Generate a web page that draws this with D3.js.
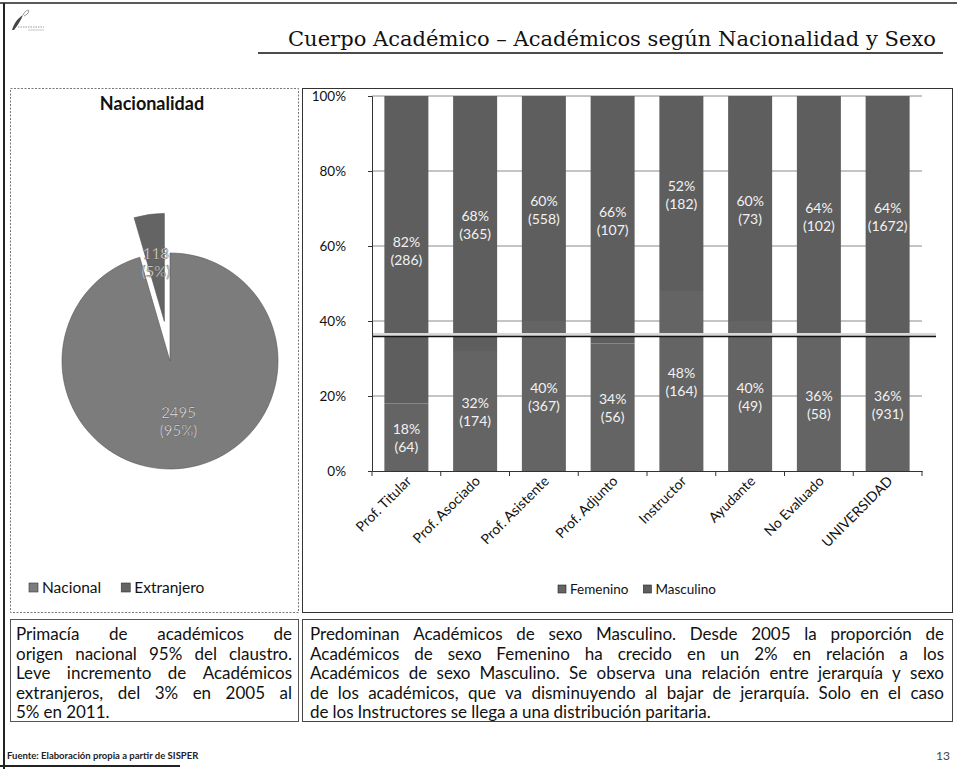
<!DOCTYPE html>
<html>
<head>
<meta charset="utf-8">
<script src="https://cdn.jsdelivr.net/npm/d3@7"></script>
<style>
  body { margin: 0; background: #fff; }
  svg { display: block; }
</style>
</head>
<body>
<div id="chart"></div>
<script>
/*chart values*/
const categories = ["Prof. Titular", "Prof. Asociado", "Prof. Asistente", "Prof. Adjunto",
  "Instructor", "Ayudante", "No Evaluado", "UNIVERSIDAD"];
const femeninoPct = [18, 32, 40, 34, 48, 40, 36, 36];
const masculinoPct = [82, 68, 60, 66, 52, 60, 64, 64];
const femeninoN = [64, 174, 367, 56, 164, 49, 58, 931];
const masculinoN = [286, 365, 558, 107, 182, 73, 102, 1672];
const yTicks = [0, 20, 40, 60, 80, 100];
const series = ["Femenino", "Masculino"];

const nacionalidad = ["Nacional", "Extranjero"];
const nacionalidadN = [2495, 118];
const nacionalidadPct = [95, 5];

const title = "Cuerpo Académico – Académicos según Nacionalidad y Sexo";
const textLeft = [
  "Primacía de académicos de",
  "origen nacional 95% del claustro.",
  "Leve incremento de Académicos",
  "extranjeros, del 3% en 2005 al",
  "5% en 2011."
];
const textRight = [
  "Predominan Académicos de sexo Masculino. Desde 2005 la proporción de",
  "Académicos de sexo Femenino ha crecido en un 2% en relación a los",
  "Académicos de sexo Masculino. Se observa una relación entre jerarquía y sexo",
  "de los académicos, que va disminuyendo al bajar de jerarquía. Solo en el caso",
  "de los Instructores se llega a una distribución paritaria."
];

const W = 957, H = 769;
const sans = "Lato, 'Open Sans', sans-serif";

const svg = d3.select("#chart").append("svg")
  .attr("width", W)
  .attr("height", H);

svg.append("rect").attr("width", W).attr("height", H).attr("fill", "#fff");

// page frame
svg.append("line")
  .attr("x1", 0).attr("x2", W).attr("y1", 3).attr("y2", 3)
  .attr("stroke", "#222").attr("stroke-width", 1.5);
svg.append("line")
  .attr("x1", 4).attr("x2", 4).attr("y1", 3).attr("y2", H)
  .attr("stroke", "#222").attr("stroke-width", 2);
svg.append("line")
  .attr("x1", 0).attr("x2", 180).attr("y1", 766).attr("y2", 766)
  .attr("stroke", "#222").attr("stroke-width", 2);

// small logo
const logo = svg.append("g").attr("transform", "translate(8,8)");
logo.append("path")
  .attr("d", "M4,22 C6,15 10,10 15,7 C13,12 10,17 6,22 Z")
  .attr("fill", "#444");
logo.append("path")
  .attr("d", "M15,7 C17,3 20,1 21,3 C20,6 18,7 16,8")
  .attr("fill", "none").attr("stroke", "#777").attr("stroke-width", 0.8);
logo.append("line")
  .attr("x1", 10).attr("x2", 36).attr("y1", 19).attr("y2", 19)
  .attr("stroke", "#999").attr("stroke-width", 1).attr("stroke-dasharray", "1.5,1");
logo.append("line")
  .attr("x1", 20).attr("x2", 36).attr("y1", 22).attr("y2", 22)
  .attr("stroke", "#bbb").attr("stroke-width", 0.8);

// title
svg.append("text")
  .text(title)
  .attr("x", 288)
  .attr("y", 46)
  .attr("font-family", "'DejaVu Serif', 'Liberation Serif', serif")
  .attr("font-size", 20)
  .attr("fill", "#111")
  .attr("textLength", 648)
  .attr("lengthAdjust", "spacingAndGlyphs");
svg.append("line")
  .attr("x1", 258).attr("x2", 943).attr("y1", 53).attr("y2", 53)
  .attr("stroke", "#111").attr("stroke-width", 1.6);

// panel frames
svg.append("rect")
  .attr("x", 10.5).attr("y", 88.5).attr("width", 288).attr("height", 524)
  .attr("fill", "none").attr("stroke", "#777").attr("stroke-dasharray", "2,1.5");
svg.append("rect")
  .attr("x", 302.5).attr("y", 88.5).attr("width", 650).attr("height", 524)
  .attr("fill", "none").attr("stroke", "#333");
svg.append("rect")
  .attr("x", 10.5).attr("y", 619.5).attr("width", 288).attr("height", 102)
  .attr("fill", "none").attr("stroke", "#555");
svg.append("rect")
  .attr("x", 302.5).attr("y", 619.5).attr("width", 650).attr("height", 102)
  .attr("fill", "none").attr("stroke", "#444");

/* ---------- pie ---------- */
const pieG = svg.append("g").attr("class", "pie");
pieG.append("text")
  .text("Nacionalidad")
  .attr("x", 152)
  .attr("y", 110)
  .attr("text-anchor", "middle")
  .attr("font-family", sans)
  .attr("font-weight", "bold")
  .attr("font-size", 18)
  .attr("fill", "#111");

const pieColors = d3.scaleOrdinal().domain(nacionalidad).range(["#7c7c7c", "#646464"]);
const pieData = d3.pie().sort(null).value(d => d.n)(
  nacionalidad.map((k, i) => ({key: k, n: nacionalidadN[i], pct: nacionalidadPct[i]}))
);
const cx = 170, cy = 361, r = 108;
const explode = [0, 40];
const arc = d3.arc().innerRadius(0).outerRadius(r);
const labelArc = d3.arc().innerRadius(r * 0.56).outerRadius(r * 0.56);

const slices = pieG.selectAll("g.slice")
  .data(pieData)
  .enter()
  .append("g")
  .attr("class", "slice")
  .attr("transform", (d, i) => {
    const mid = (d.startAngle + d.endAngle) / 2;
    const dx = Math.sin(mid) * explode[i];
    const dy = -Math.cos(mid) * explode[i];
    return "translate(" + (cx + dx) + "," + (cy + dy) + ")";
  });
slices.append("path")
  .attr("d", arc)
  .attr("fill", d => pieColors(d.data.key))
  .attr("stroke", "#555")
  .attr("stroke-width", 0.6);
slices.each(function(d) {
  const c = labelArc.centroid(d);
  const t = d3.select(this).append("text")
    .attr("text-anchor", "middle")
    .attr("font-family", sans)
    .attr("font-size", 15)
    .attr("fill", "#f4f4f4")
    .attr("stroke", "#444")
    .attr("stroke-width", 0.4);
  t.append("tspan").attr("x", c[0]).attr("y", c[1] - 3).text(d.data.n);
  t.append("tspan").attr("x", c[0]).attr("y", c[1] + 15).text("(" + d.data.pct + "%)");
});

// pie legend
const pieLegend = pieG.append("g").attr("transform", "translate(0,588)");
var lx = 29;
nacionalidad.forEach((k) => {
  pieLegend.append("rect")
    .attr("x", lx).attr("y", -5).attr("width", 9).attr("height", 9)
    .attr("fill", pieColors(k)).attr("stroke", "#333").attr("stroke-width", 0.6);
  const t = pieLegend.append("text")
    .text(k)
    .attr("x", lx + 13)
    .attr("y", 5)
    .attr("font-family", sans)
    .attr("font-size", 15.5)
    .attr("fill", "#111");
  lx += 13 + t.node().getComputedTextLength() + 20;
});

/* ---------- stacked bars ---------- */
const plotL = 372, plotR = 922, plotT = 96, plotB = 471;
const x = d3.scaleBand().domain(categories).range([plotL, plotR])
  .paddingInner(0.36).paddingOuter(0.18);
const y = d3.scaleLinear().domain([0, 100]).range([plotB, plotT]);
const barColors = d3.scaleOrdinal().domain(series).range(["#646464", "#5e5e5e"]);

const barG = svg.append("g").attr("class", "bars");

// gridlines
barG.append("g")
  .selectAll("line")
  .data(yTicks.filter(t => t > 0))
  .enter()
  .append("line")
  .attr("x1", plotL).attr("x2", plotR)
  .attr("y1", d => y(d)).attr("y2", d => y(d))
  .attr("stroke", "#8a8a8a").attr("stroke-width", 1);

const rows = categories.map((c, i) => ({
  cat: c,
  Femenino: femeninoPct[i], Masculino: masculinoPct[i],
  nF: femeninoN[i], nM: masculinoN[i]
}));
const stacked = d3.stack().keys(series)(rows);

barG.append("g")
  .selectAll("g")
  .data(stacked)
  .enter()
  .append("g")
  .attr("fill", d => barColors(d.key))
  .selectAll("rect")
  .data(d => d)
  .enter()
  .append("rect")
  .attr("x", d => x(d.data.cat))
  .attr("width", x.bandwidth())
  .attr("y", d => y(d[1]))
  .attr("height", d => y(d[0]) - y(d[1]));

// segment labels
stacked.forEach((s) => {
  s.forEach((d) => {
    const mx = x(d.data.cat) + x.bandwidth() / 2;
    const my = y((d[0] + d[1]) / 2);
    const n = s.key === "Femenino" ? d.data.nF : d.data.nM;
    const t = barG.append("text")
      .attr("text-anchor", "middle")
      .attr("font-family", sans)
      .attr("font-size", 14)
      .attr("fill", "#f2f2f2");
    t.append("tspan").attr("x", mx).attr("y", my - 3).text(d.data[s.key] + "%");
    t.append("tspan").attr("x", mx).attr("y", my + 15).text("(" + n + ")");
  });
});

// reference line at the overall femenino share
const ref = femeninoPct[femeninoPct.length - 1];
barG.append("line")
  .attr("x1", plotL).attr("x2", plotR + 14)
  .attr("y1", y(ref) - 1.5).attr("y2", y(ref) - 1.5)
  .attr("stroke", "#d8d8d8").attr("stroke-width", 3);
barG.append("line")
  .attr("x1", plotL).attr("x2", plotR + 14)
  .attr("y1", y(ref) + 0.5).attr("y2", y(ref) + 0.5)
  .attr("stroke", "#111").attr("stroke-width", 1.5);

// axes
const yAxis = barG.append("g")
  .attr("transform", "translate(" + plotL + ",0)")
  .call(d3.axisLeft(y).tickValues(yTicks).tickSize(4).tickFormat(d => d + "%"));
yAxis.select(".domain").attr("stroke", "#333");
yAxis.selectAll(".tick line").attr("stroke", "#333");
yAxis.selectAll(".tick text")
  .attr("font-family", sans).attr("font-size", 13.5).attr("fill", "#111").attr("x", -26);

const xAxis = barG.append("g")
  .attr("transform", "translate(0," + plotB + ")")
  .call(d3.axisBottom(x).tickSize(0).tickSizeOuter(0));
xAxis.select(".domain").attr("stroke", "#333");
xAxis.selectAll(".tick text")
  .attr("font-family", sans)
  .attr("font-size", 14)
  .attr("fill", "#111")
  .attr("text-anchor", "end")
  .attr("dy", 0)
  .attr("y", 0)
  .attr("transform", "translate(6,11) rotate(-45)");
// category separators
barG.append("g")
  .selectAll("line")
  .data(d3.range(categories.length + 1))
  .enter()
  .append("line")
  .attr("x1", i => plotL + i * (plotR - plotL) / categories.length)
  .attr("x2", i => plotL + i * (plotR - plotL) / categories.length)
  .attr("y1", plotB).attr("y2", plotB + 5)
  .attr("stroke", "#333");

// bar legend
const barLegend = barG.append("g").attr("transform", "translate(0,590)");
var bx = 558;
series.forEach((k) => {
  barLegend.append("rect")
    .attr("x", bx).attr("y", -5).attr("width", 8).attr("height", 8)
    .attr("fill", barColors(k)).attr("stroke", "#222").attr("stroke-width", 0.6);
  const t = barLegend.append("text")
    .text(k)
    .attr("x", bx + 12)
    .attr("y", 4)
    .attr("font-family", sans)
    .attr("font-size", 13.5)
    .attr("fill", "#111");
  bx += 12 + t.node().getComputedTextLength() + 15;
});

/* ---------- text boxes ---------- */
function measure(str, size) {
  const t = svg.append("text")
    .attr("font-family", sans).attr("font-size", size).text(str);
  const w = t.node().getComputedTextLength();
  t.remove();
  return w;
}

// largest size (up to maxSize) where every justified line still fits
function fitSize(lines, avail, maxSize) {
  var size = maxSize;
  lines.slice(0, -1).forEach((line) => {
    const words = line.split(" ");
    const natural = d3.sum(words, w => measure(w, 10)) / 10;
    const s = (avail - (words.length - 1) * 3.2) / natural;
    size = Math.min(size, s);
  });
  return size;
}

function justify(lines, x0, x1, y0, lh, size) {
  const g = svg.append("g");
  lines.forEach((line, i) => {
    const words = line.split(" ");
    const t = g.append("text")
      .attr("y", y0 + i * lh)
      .attr("font-family", sans)
      .attr("font-size", size)
      .attr("fill", "#111");
    const spans = words.map(w => t.append("tspan").text(w));
    const widths = spans.map(s => s.node().getComputedTextLength());
    const total = d3.sum(widths);
    var gap = size * 0.24;
    if (i < lines.length - 1 && words.length > 1) {
      gap = (x1 - x0 - total) / (words.length - 1);
    }
    var px = x0;
    spans.forEach((s, j) => {
      s.attr("x", px);
      px += widths[j] + gap;
    });
  });
}
justify(textLeft, 16, 292, 640, 19.6, fitSize(textLeft, 276, 17));
justify(textRight, 310, 944, 640, 19.6, fitSize(textRight, 634, 17));

// footer
svg.append("text")
  .text("Fuente: Elaboración propia a partir de SISPER")
  .attr("x", 7)
  .attr("y", 759)
  .attr("font-family", sans)
  .attr("font-size", 9.5)
  .attr("font-weight", "bold")
  .attr("fill", "#222");
svg.append("text")
  .text("13")
  .attr("x", 950)
  .attr("y", 760)
  .attr("text-anchor", "end")
  .attr("font-family", sans)
  .attr("font-size", 12)
  .attr("fill", "#444");
</script>
</body>
</html>
